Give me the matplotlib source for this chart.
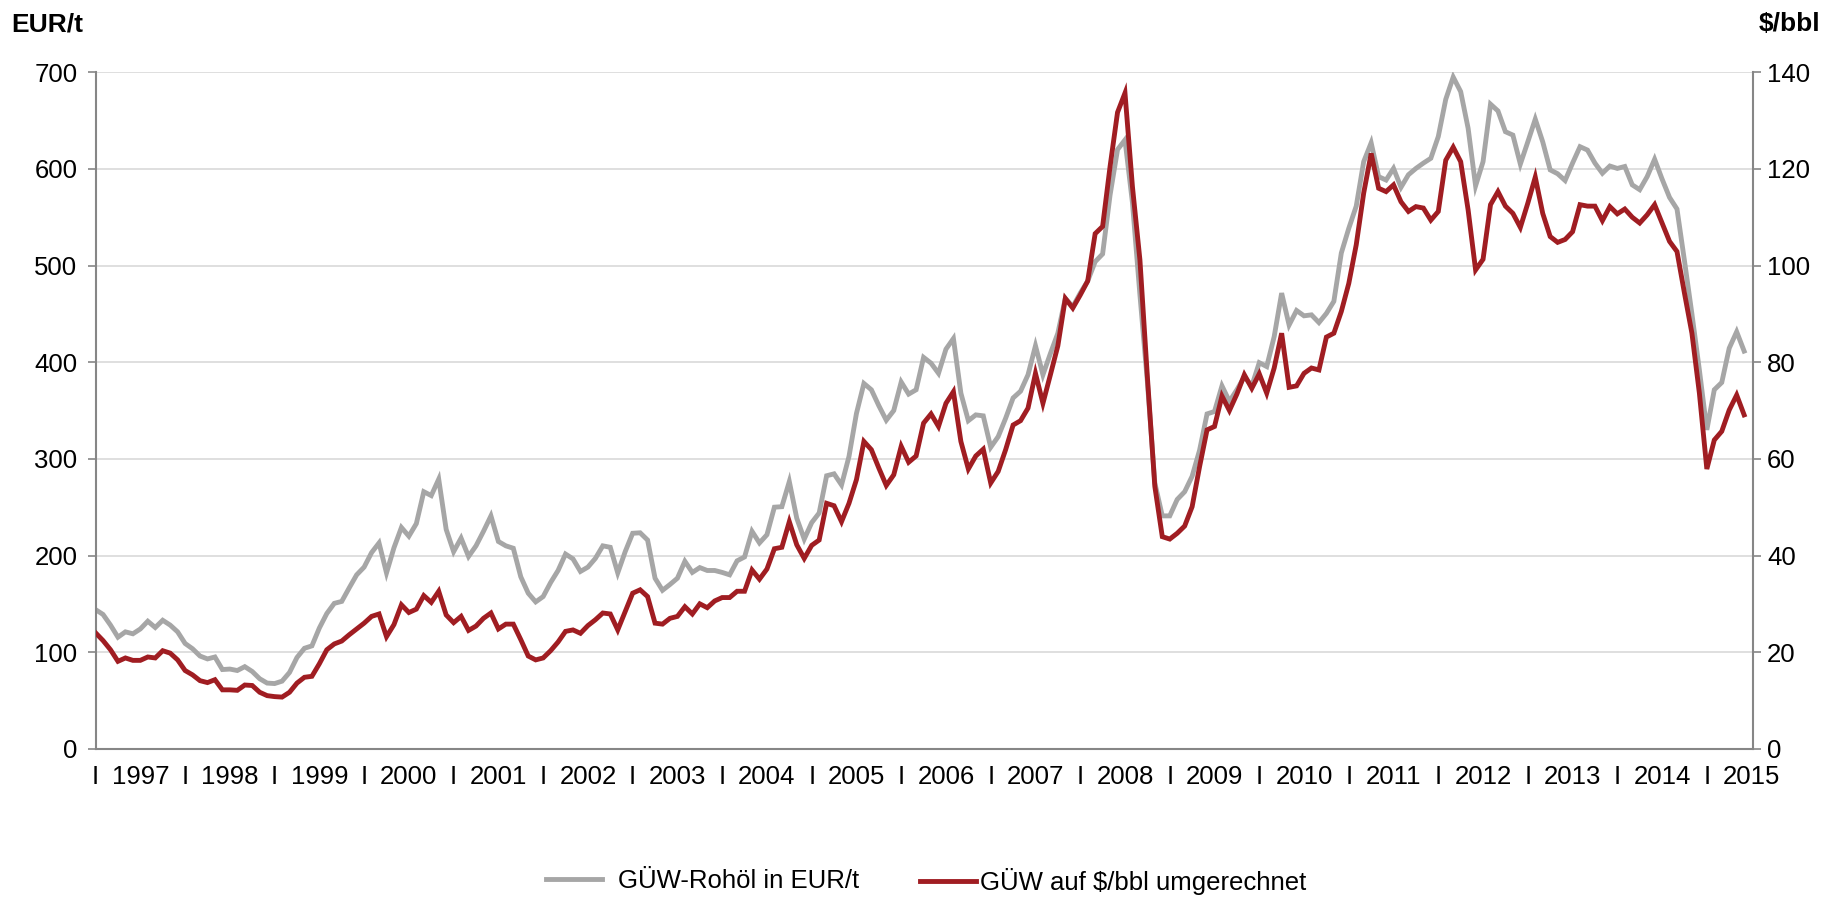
import matplotlib.pyplot as plt
import numpy as np

plt.rcParams['font.family'] = ['Liberation Sans', 'DejaVu Sans']

# monthly values, Jan 1997 .. Jun 2015
years = list(range(1997, 2016))

rohoel_eur_t = [
    144, 139, 128, 115.5, 121, 119, 124, 132, 125.5, 133, 128, 121,
    109, 103.5, 96, 93, 95, 82, 82.5, 81, 85, 80, 72.5, 68,
    67.5, 70, 79, 94.5, 104, 106.5, 125, 140, 150.5, 152.5, 166.5, 180,
    188, 203, 213, 182, 208, 229, 220, 233, 266, 262, 279, 227,
    204, 218, 199, 210, 225, 241, 214.5, 210, 207.5, 178, 161, 152,
    157.5, 172, 184.5, 201.5, 196.5, 183.5, 188, 197, 210, 208.5, 182, 204,
    223, 223.5, 216, 176.5, 164, 170, 176.5, 194, 182.5, 187.5, 184.5, 184.5,
    182.5, 180, 194.5, 198.5, 225, 213, 221.5, 250, 250.5, 276.5, 238.5, 217,
    234, 244, 282.5, 284.5, 273, 302.5, 347, 378, 371.5, 355, 340, 350,
    379.5, 367, 371.5, 405, 399, 388.5, 413.5, 424.5, 368, 339.5, 345.5, 344.5,
    312, 323, 342, 363, 370, 387, 417, 387, 409, 430, 466, 457.5,
    471.5, 484, 504, 512, 573, 620, 630, 565, 470, 380, 275, 241,
    241, 258, 266, 282, 309, 346.5, 349, 375.5, 359.5, 371.5, 385, 375.5,
    399.5, 395.5, 426.5, 471.5, 438.5, 453.5, 448, 449, 441, 450.5, 463, 513,
    538.5, 561.5, 607.5, 627, 592, 588.5, 600.5, 581, 594, 600.5, 606, 611,
    633.5, 672, 695, 680, 642, 582.5, 607.5, 667, 660, 638.5, 635, 605,
    628, 651.5, 628, 599, 595, 588, 606, 623, 619.5, 606, 595.5, 603,
    600.5, 602.5, 583.5, 578.5, 592, 610, 589.5, 570.5, 558.5, 505, 450, 392,
    330, 371.5, 379, 414.5, 431.5, 411.5,
]

rohoel_usd_bbl = [
    24.0, 22.4, 20.5, 18.1, 18.8, 18.3, 18.3, 19.0, 18.8, 20.3, 19.8, 18.4,
    16.2, 15.3, 14.1, 13.7, 14.3, 12.2, 12.2, 12.1, 13.2, 13.1, 11.7, 11.0,
    10.8, 10.7, 11.7, 13.6, 14.8, 15.0, 17.6, 20.5, 21.7, 22.3, 23.6, 24.8,
    26.0, 27.4, 27.9, 23.2, 25.7, 29.8, 28.2, 28.9, 31.7, 30.3, 32.6, 27.7,
    26.1, 27.4, 24.5, 25.4, 27.0, 28.1, 24.8, 25.8, 25.8, 22.6, 19.2, 18.4,
    18.8, 20.3, 22.1, 24.3, 24.6, 23.9, 25.5, 26.7, 28.1, 27.9, 24.6, 28.4,
    32.2, 32.9, 31.5, 26.0, 25.8, 27.0, 27.4, 29.4, 27.9, 30.0, 29.2, 30.6,
    31.3, 31.3, 32.6, 32.6, 37.0, 35.1, 37.2, 41.4, 41.7, 47.0, 42.2, 39.4,
    42.1, 43.2, 50.8, 50.3, 47.0, 50.8, 55.7, 63.6, 61.9, 58.1, 54.5, 56.7,
    62.6, 59.3, 60.6, 67.4, 69.3, 66.7, 71.5, 73.9, 63.6, 57.9, 60.6, 62.0,
    55.0, 57.4, 61.9, 67.0, 67.9, 70.5, 77.7, 71.5, 77.4, 83.4, 93.2, 91.2,
    93.9, 96.8, 106.6, 108.1, 120.5, 131.7, 135.7, 116.3, 101.2, 77.0, 54.3, 43.9,
    43.4, 44.6, 46.1, 50.1, 58.4, 66.0, 66.7, 73.0, 70.0, 73.4, 77.4, 74.6,
    77.6, 73.6, 78.8, 86.0, 74.8, 75.1, 77.7, 78.8, 78.4, 85.2, 86.0, 90.5,
    96.3, 104.3, 115.0, 123.2, 116.0, 115.3, 116.7, 113.2, 111.2, 112.2, 111.9, 109.4,
    111.2, 121.8, 124.5, 121.5, 111.5, 99.1, 101.3, 112.6, 115.3, 112.3, 110.8, 107.9,
    112.9, 118.3, 110.8, 106.0, 104.8, 105.4, 107.0, 112.6, 112.3, 112.3, 109.3, 112.2,
    110.7, 111.7, 110.0, 108.8, 110.5, 112.6, 108.8, 105.0, 102.9, 94.3, 86.0, 73.6,
    57.9, 63.9, 65.7, 70.1, 73.2, 69.1,
]

grau = '#a6a6a6'
rot = '#a01d22'
achse = '#868686'
fs = 18.5

months = np.arange(len(rohoel_eur_t))

fig = plt.figure(figsize=(18.38, 9), dpi=100)
ax = fig.add_axes([0.052, 0.168, 0.9018, 0.7517])
ax2 = ax.twinx()

ax.plot(months, rohoel_eur_t, color=grau, lw=3.5, solid_joinstyle='miter',
        label='GÜW-Rohöl in EUR/t')
ax2.plot(months, rohoel_usd_bbl, color=rot, lw=3.5, solid_joinstyle='miter',
         label='GÜW auf $/bbl umgerechnet')

ax.set_xlim(0, 222.2)
ax.set_ylim(0, 700)
ax2.set_ylim(0, 140)
ax.set_yticks(range(0, 701, 100))
ax2.set_yticks(range(0, 141, 20))

ax.grid(axis='y', color='#d9d9d9', lw=1.2)
ax.set_axisbelow(True)

for s in ['top', 'right']:
    ax.spines[s].set_visible(False)
for s in ['top', 'left', 'bottom']:
    ax2.spines[s].set_visible(False)
for sp in [ax.spines['left'], ax.spines['bottom'], ax2.spines['right']]:
    sp.set_color(achse)
    sp.set_linewidth(1.5)

ax.tick_params(axis='y', length=6, width=1.2, color=achse, labelsize=fs, pad=7)
ax2.tick_params(axis='y', length=6, width=1.2, color=achse, labelsize=fs, pad=4)

# year separators "I" on major ticks, year names centered in between
ax.set_xticks([12 * k for k in range(len(years))])
ax.set_xticklabels(['I'] * len(years))
ax.set_xticks([12 * k + 6 for k in range(len(years))], minor=True)
ax.set_xticklabels([str(y) for y in years], minor=True)
ax.tick_params(axis='x', which='both', length=0, labelsize=fs, pad=12)

fig.text(0.006, 0.973, 'EUR/t', fontsize=19, fontweight='bold', va='center')
fig.text(0.957, 0.973, '$/bbl', fontsize=19, fontweight='bold', va='center')

h1, l1 = ax.get_legend_handles_labels()
h2, l2 = ax2.get_legend_handles_labels()
fig.legend(h1, l1, loc='center left', bbox_to_anchor=(0.297, 0.021),
           frameon=False, fontsize=fs, handlelength=2.2, handletextpad=0.6,
           borderpad=0, borderaxespad=0)
fig.legend(h2, l2, loc='center left', bbox_to_anchor=(0.5005, 0.021),
           frameon=False, fontsize=fs, handlelength=2.2, handletextpad=0.15,
           borderpad=0, borderaxespad=0)

fig.savefig('out.png', dpi=100)
